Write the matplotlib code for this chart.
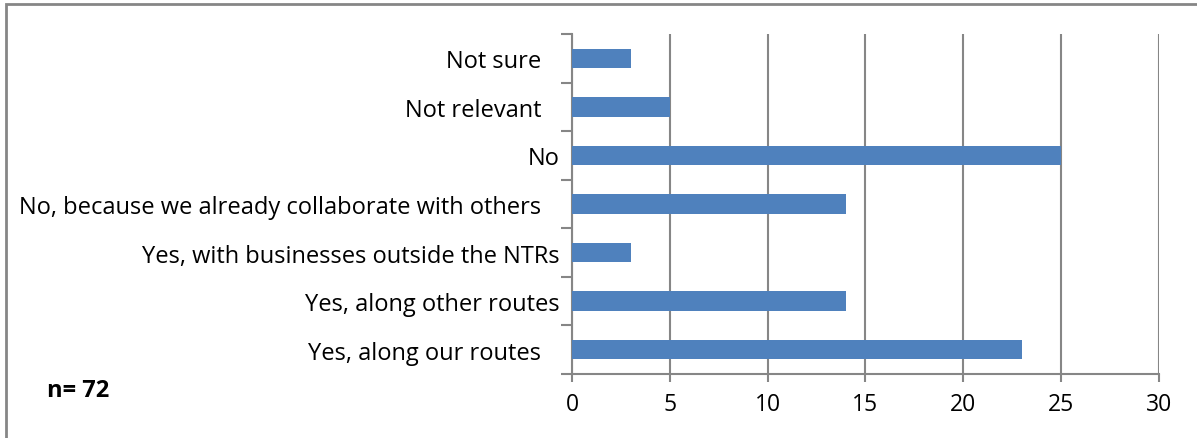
import matplotlib.pyplot as plt
from matplotlib.patches import Rectangle

plt.rcParams['font.family'] = ['Open Sans', 'DejaVu Sans']

labels = ["Yes, along our routes   ", "Yes, along other routes", "Yes, with businesses outside the NTRs",
          "No, because we already collaborate with others   ", "No", "Not relevant   ", "Not sure   "]
values = [23, 14, 3, 14, 25, 5, 3]
xticks = [0, 5, 10, 15, 20, 25, 30]

grey = '#868686'
blue = '#4F81BD'

fig = plt.figure(figsize=(11.97, 4.39), dpi=100)
ax = fig.add_axes([0.478, 0.146, 0.490, 0.774])

pos = list(range(len(labels)))
ax.barh(pos, values, height=0.4, color=blue, zorder=3)

ax.set_xlim(0, 30)
ax.set_ylim(-0.5, len(labels) - 0.5)
ax.set_xticks(xticks)
ax.set_xticklabels([str(t) for t in xticks], fontsize=16.5)
ax.set_yticks(pos)
ax.set_yticklabels(labels, fontsize=17)
ax.set_yticks([p - 0.5 for p in range(len(labels) + 1)], minor=True)
ax.tick_params(axis='y', which='major', length=0, pad=9)
ax.tick_params(axis='y', which='minor', length=8, color=grey, width=1.5)
ax.tick_params(axis='x', length=6, color=grey, width=1.5, pad=7)

ax.grid(axis='x', color=grey, linewidth=1.5, zorder=0)
for s in ['top', 'right']:
    ax.spines[s].set_visible(False)
for s in ['left', 'bottom']:
    ax.spines[s].set_color(grey)
    ax.spines[s].set_linewidth(1.5)

fig.text(0.039, 0.096, "n= 72", fontsize=17, fontweight='bold')

# outer chart border (right and bottom edges fall outside the image)
fig.patches.append(Rectangle((0.005, -0.05), 1.2, 1.038, transform=fig.transFigure,
                             fill=False, edgecolor=grey, linewidth=2))

fig.savefig("out.png", dpi=100)
